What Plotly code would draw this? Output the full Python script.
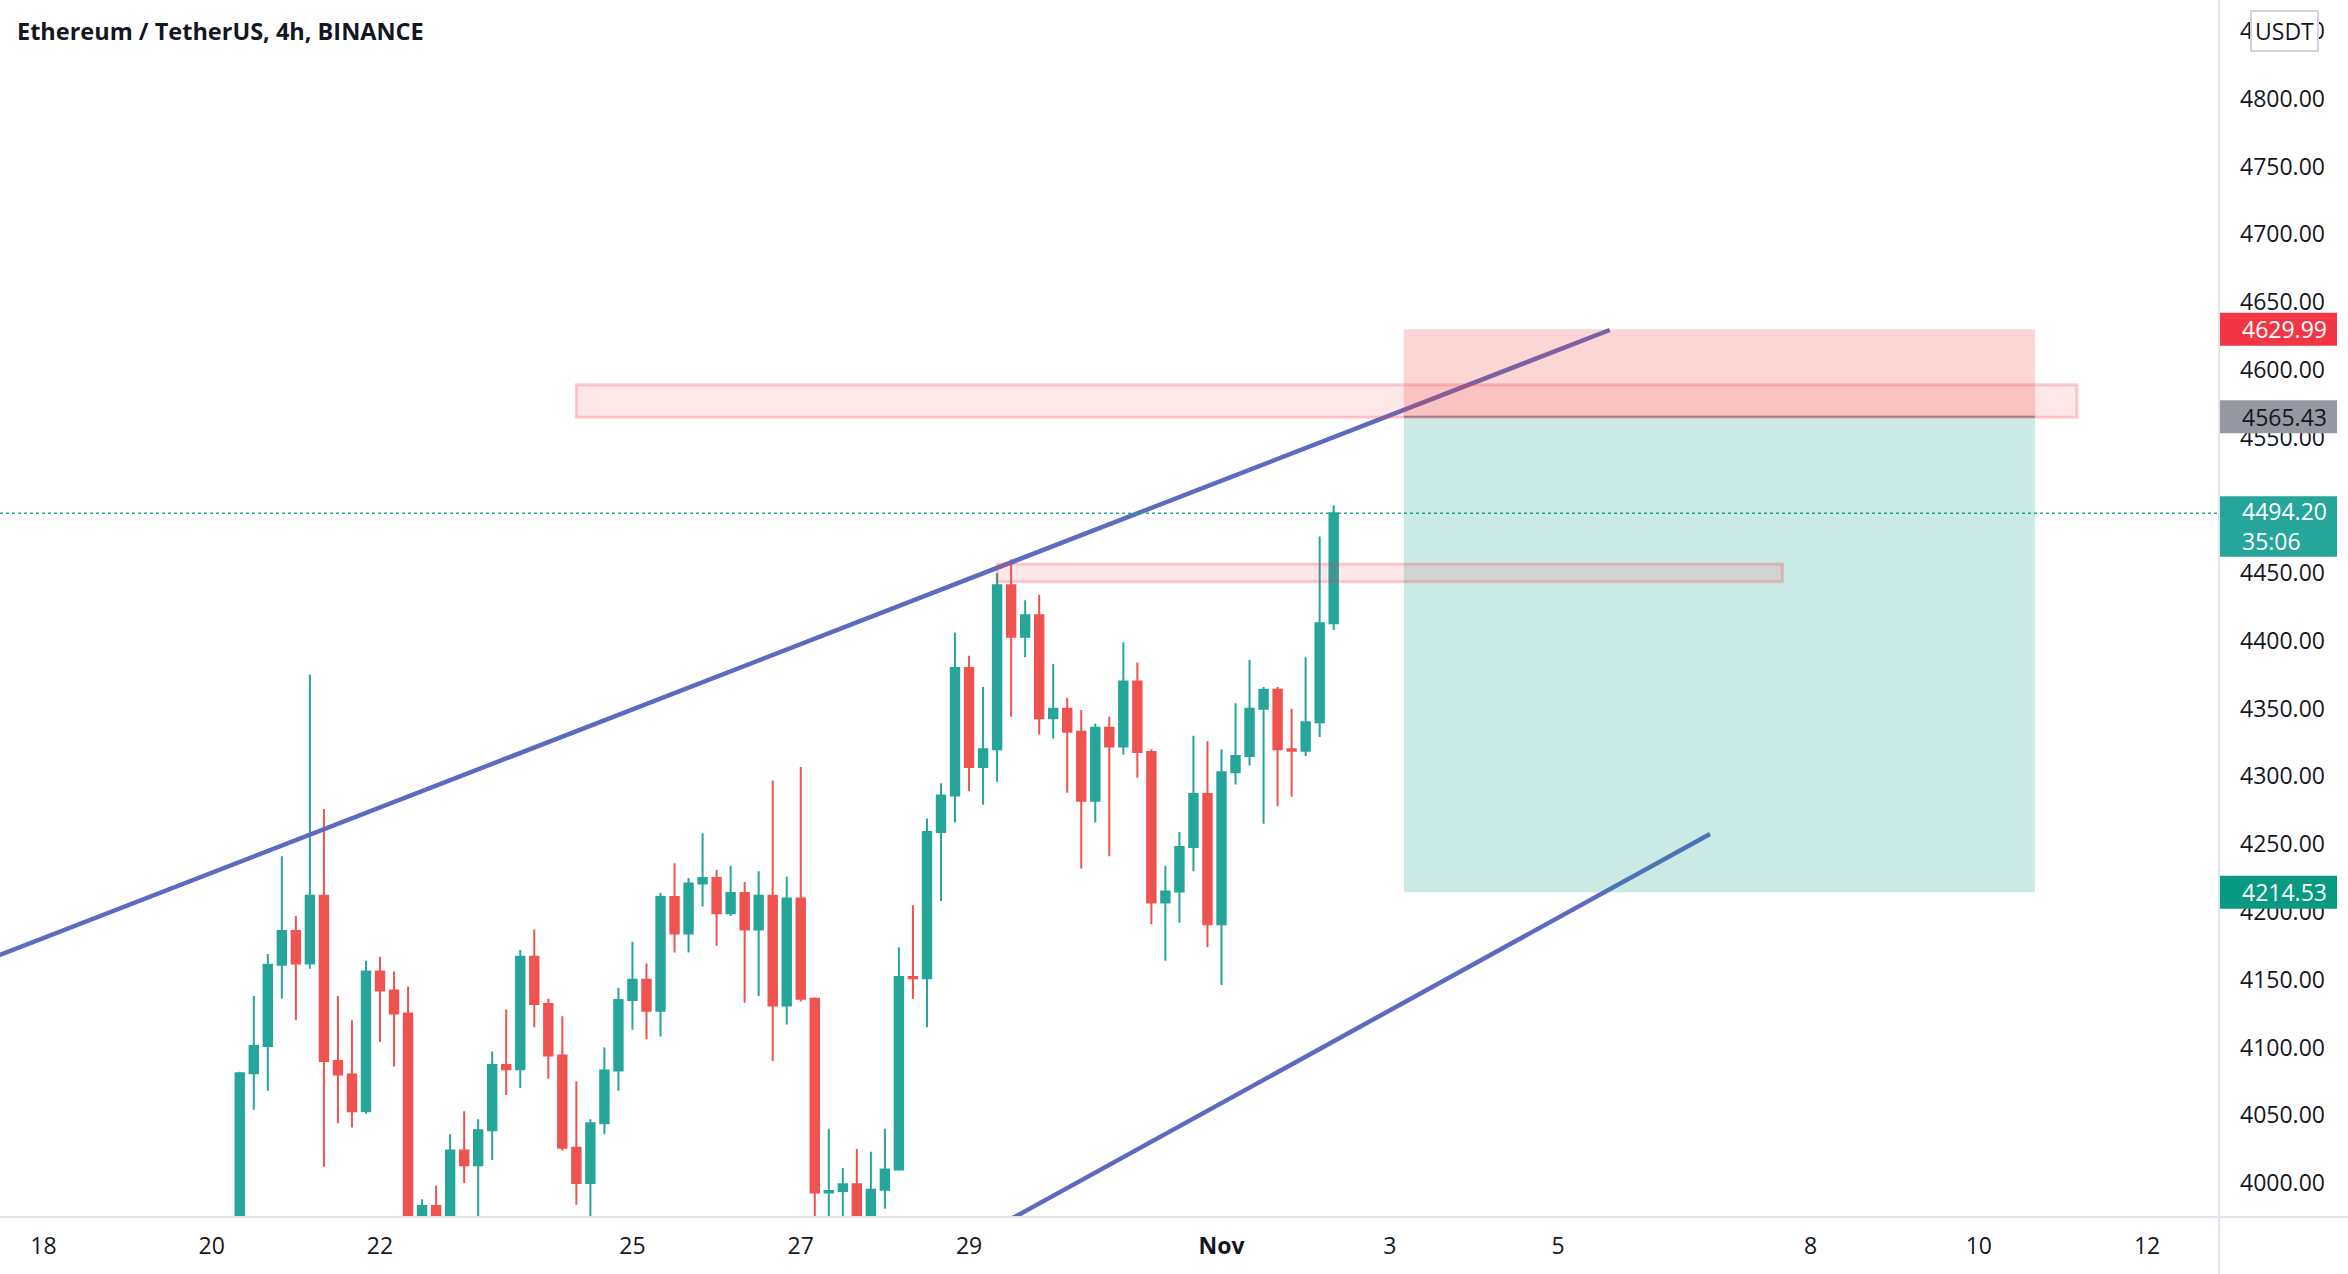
import pandas as pd
import plotly.graph_objects as go

# ---- candle data (4h, BINANCE ETH/USDT) ----
first_bar = "2021-10-20 08:00"
opens = [3968, 4081, 4101, 4161, 4186, 4162, 4212, 4090, 4080, 4053,
         4156, 4142, 4125, 3970, 3983, 3972, 4024, 4013, 4039, 4087,
         4084, 4167, 4132, 4094, 4026, 4000, 4044, 4083, 4135, 4150,
         4127, 4211, 4184, 4221, 4225, 4199, 4214, 4187, 4212, 4131,
         4210, 4136, 3993, 3994, 3999, 3970, 3995, 4010, 4152, 4151,
         4259, 4286, 4380, 4307, 4320, 4441, 4403, 4419, 4343, 4350,
         4333, 4282, 4336, 4322, 4370, 4318, 4207, 4215, 4248, 4287,
         4191, 4303, 4315, 4350, 4364, 4320, 4319, 4340, 4413]
highs = [4082, 4138, 4169, 4241, 4197, 4375, 4276, 4138, 4120, 4164,
         4167, 4156, 4145, 3988, 3998, 4036, 4053, 4047, 4097, 4128,
         4172, 4187, 4136, 4123, 4075, 4047, 4100, 4144, 4178, 4162,
         4214, 4236, 4225, 4258, 4231, 4234, 4222, 4230, 4297, 4226,
         4307, 4137, 4040, 4011, 4025, 4023, 4040, 4174, 4205, 4269,
         4295, 4406, 4389, 4366, 4450, 4460, 4430, 4434, 4383, 4358,
         4349, 4339, 4344, 4399, 4384, 4320, 4234, 4259, 4330, 4326,
         4320, 4354, 4386, 4366, 4366, 4350, 4388, 4477, 4500]
lows = [3950, 4054, 4068, 4136, 4120, 4158, 4012, 4044, 4041, 4051,
        4104, 4086, 3950, 3955, 3955, 3960, 4000, 3965, 4017, 4065,
        4070, 4115, 4077, 4024, 3984, 3968, 4036, 4068, 4113, 4106,
        4108, 4170, 4170, 4204, 4175, 4197, 4133, 4138, 4090, 4117,
        4134, 3960, 3962, 3965, 3958, 3960, 3981, 4009, 4136, 4115,
        4208, 4266, 4289, 4279, 4296, 4344, 4388, 4331, 4328, 4288,
        4232, 4266, 4241, 4316, 4299, 4191, 4164, 4192, 4230, 4174,
        4146, 4294, 4308, 4265, 4278, 4285, 4315, 4329, 4408]
closes = [4081, 4101, 4161, 4186, 4162, 4212, 4090, 4080, 4053, 4156,
          4142, 4125, 3970, 3983, 3972, 4024, 4013, 4039, 4087, 4084,
          4167, 4132, 4094, 4026, 4000, 4044, 4083, 4135, 4150, 4127,
          4211, 4184, 4221, 4225, 4199, 4214, 4187, 4212, 4131, 4210,
          4136, 3993, 3994, 3999, 3970, 3995, 4010, 4152, 4151, 4259,
          4286, 4380, 4307, 4320, 4441, 4403, 4419, 4343, 4350, 4333,
          4282, 4336, 4322, 4370, 4318, 4207, 4215, 4248, 4287, 4191,
          4303, 4315, 4350, 4364, 4320, 4319, 4340, 4413, 4494.20]

# ---- drawings ----
upper_trend_t = ["2021-10-17 00:00", "2021-11-05 14:43"]
upper_trend_p = [4156.6, 4629.4]
lower_trend_t = ["2021-10-29 00:00", "2021-11-06 19:20"]
lower_trend_p = [3956.4, 4257.5]

zone_hi_t = ["2021-10-24 08:00", "2021-11-11 04:00"]
zone_hi_p = [4565.0, 4589.0]
zone_lo_t = ["2021-10-29 08:00", "2021-11-07 16:00"]
zone_lo_p = [4443.7, 4456.8]

pos_t = ["2021-11-03 04:00", "2021-11-10 16:00"]
pos_stop = 4629.99
pos_entry = 4565.43
pos_target = 4214.53
last_price = 4494.20
countdown = "35:06"

# 4500.00 is hidden behind the last-price label in the original
price_ticks = [4000, 4050, 4100, 4150, 4200, 4250, 4300, 4350, 4400,
               4450, 4550, 4600, 4650, 4700, 4750, 4800, 4850]
date_ticks = ["2021-10-18", "2021-10-20", "2021-10-22", "2021-10-25",
              "2021-10-27", "2021-10-29", "2021-11-01", "2021-11-03",
              "2021-11-05", "2021-11-08", "2021-11-10", "2021-11-12"]
date_labels = ["18", "20", "22", "25", "27", "29", "<b>Nov</b>", "3", "5",
               "8", "10", "12"]

title_text = "Ethereum / TetherUS, 4h, BINANCE"

UP = "#26a69a"
DOWN = "#ef5350"
TXT = "#131722"
FONT = "Open Sans"
AXIS_LINE = "#e0e3eb"
TREND = "#5c6bc0"
FS = 23

times = pd.date_range(first_bar, periods=len(opens), freq="4h")

fig = go.Figure()
fig.add_trace(go.Candlestick(
    x=times, open=opens, high=highs, low=lows, close=closes,
    increasing=dict(line=dict(color=UP, width=2), fillcolor=UP),
    decreasing=dict(line=dict(color=DOWN, width=2), fillcolor=DOWN),
    whiskerwidth=0, showlegend=False, hoverinfo="skip"))

for tt, pp in ((upper_trend_t, upper_trend_p), (lower_trend_t, lower_trend_p)):
    fig.add_trace(go.Scatter(x=tt, y=pp, mode="lines",
                             line=dict(color=TREND, width=4.5),
                             showlegend=False, hoverinfo="skip"))

shapes = []
# current price dotted line
shapes.append(dict(type="line", xref="paper", x0=0, x1=1, yref="y",
                   y0=last_price, y1=last_price,
                   line=dict(color=UP, width=1.5, dash="dot"), layer="above"))
# short position: stop and target areas
shapes.append(dict(type="rect", xref="x", yref="y", x0=pos_t[0], x1=pos_t[1],
                   y0=pos_entry, y1=pos_stop, fillcolor="rgba(240,62,52,0.21)",
                   line=dict(width=0), layer="above"))
shapes.append(dict(type="rect", xref="x", yref="y", x0=pos_t[0], x1=pos_t[1],
                   y0=pos_target, y1=pos_entry, fillcolor="rgba(8,156,136,0.21)",
                   line=dict(width=0), layer="above"))
shapes.append(dict(type="line", xref="x", yref="y", x0=pos_t[0], x1=pos_t[1],
                   y0=pos_entry, y1=pos_entry,
                   line=dict(color="#8f929b", width=2), layer="above"))
# supply zones
for zt, zp in ((zone_hi_t, zone_hi_p), (zone_lo_t, zone_lo_p)):
    shapes.append(dict(type="rect", xref="x", yref="y", x0=zt[0], x1=zt[1],
                       y0=zp[0], y1=zp[1], fillcolor="rgba(242,54,69,0.12)",
                       line=dict(color="rgba(242,54,69,0.24)", width=3),
                       layer="above"))
# axis frame lines (extend into margins)
shapes.append(dict(type="line", xref="paper", yref="paper", x0=1, x1=1,
                   y0=-0.06, y1=1.0, line=dict(color=AXIS_LINE, width=2),
                   layer="above"))
shapes.append(dict(type="line", xref="paper", yref="paper", x0=0, x1=1.07,
                   y0=0, y1=0, line=dict(color=AXIS_LINE, width=2),
                   layer="above"))

annotations = []
annotations.append(dict(xref="paper", yref="paper", x=0, y=1, xshift=15,
                        yshift=-31, xanchor="left", yanchor="middle",
                        text=title_text, showarrow=False,
                        font=dict(family=FONT, size=23.5, color=TXT, weight=700)))


def price_label(val, text, bg, fg, down=16.5, up=16.5):
    shapes.append(dict(type="rect", xref="paper", xsizemode="pixel", xanchor=1,
                       x0=1, x1=118, yref="y", ysizemode="pixel", yanchor=val,
                       y0=-down, y1=up, fillcolor=bg, line=dict(width=0),
                       layer="above"))
    annotations.append(dict(xref="paper", yref="y", x=1, y=val, xshift=21,
                            yshift=(up - down) / 2, xanchor="left",
                            yanchor="middle", text=text, showarrow=False,
                            align="left",
                            font=dict(family=FONT, size=FS, color=fg)))


price_label(pos_stop, f"{pos_stop:.2f}", "#f23645", "white")
price_label(pos_entry, f"{pos_entry:.2f}", "#9598a1", TXT)
price_label(last_price, f"{last_price:.2f}<br>{countdown}", UP, "white",
            down=43.4, up=17.0)
price_label(pos_target, f"{pos_target:.2f}", "#089981", "white")

annotations.append(dict(xref="paper", yref="paper", x=1, y=1, xshift=65,
                        yshift=-30.5, xanchor="center", yanchor="middle",
                        text="USDT", showarrow=False, bgcolor="white",
                        bordercolor="#d1d4dc", borderwidth=2, borderpad=3,
                        font=dict(family=FONT, size=FS, color=TXT)))

fig.update_layout(
    width=2348, height=1274,
    margin=dict(l=0, r=129, t=0, b=57),
    paper_bgcolor="white", plot_bgcolor="white",
    showlegend=False, boxgap=0.4, boxgroupgap=0,
    shapes=shapes, annotations=annotations,
    font=dict(family=FONT, size=FS, color=TXT),
    xaxis=dict(type="date", range=["2021-10-17 11:37", "2021-11-12 20:30"],
               rangeslider=dict(visible=False), showgrid=False,
               zeroline=False, showline=False, tickvals=date_ticks,
               ticktext=date_labels, ticks="", ticklabelstandoff=13,
               tickfont=dict(family=FONT, size=FS, color=TXT)),
    yaxis=dict(side="right", range=[3974.9, 4872.9], showgrid=False,
               zeroline=False, showline=False, tickvals=price_ticks,
               ticktext=[f"{v:.2f}" for v in price_ticks], ticks="",
               ticklabelstandoff=20,
               tickfont=dict(family=FONT, size=FS, color=TXT)),
)

fig.write_html("out.html")
